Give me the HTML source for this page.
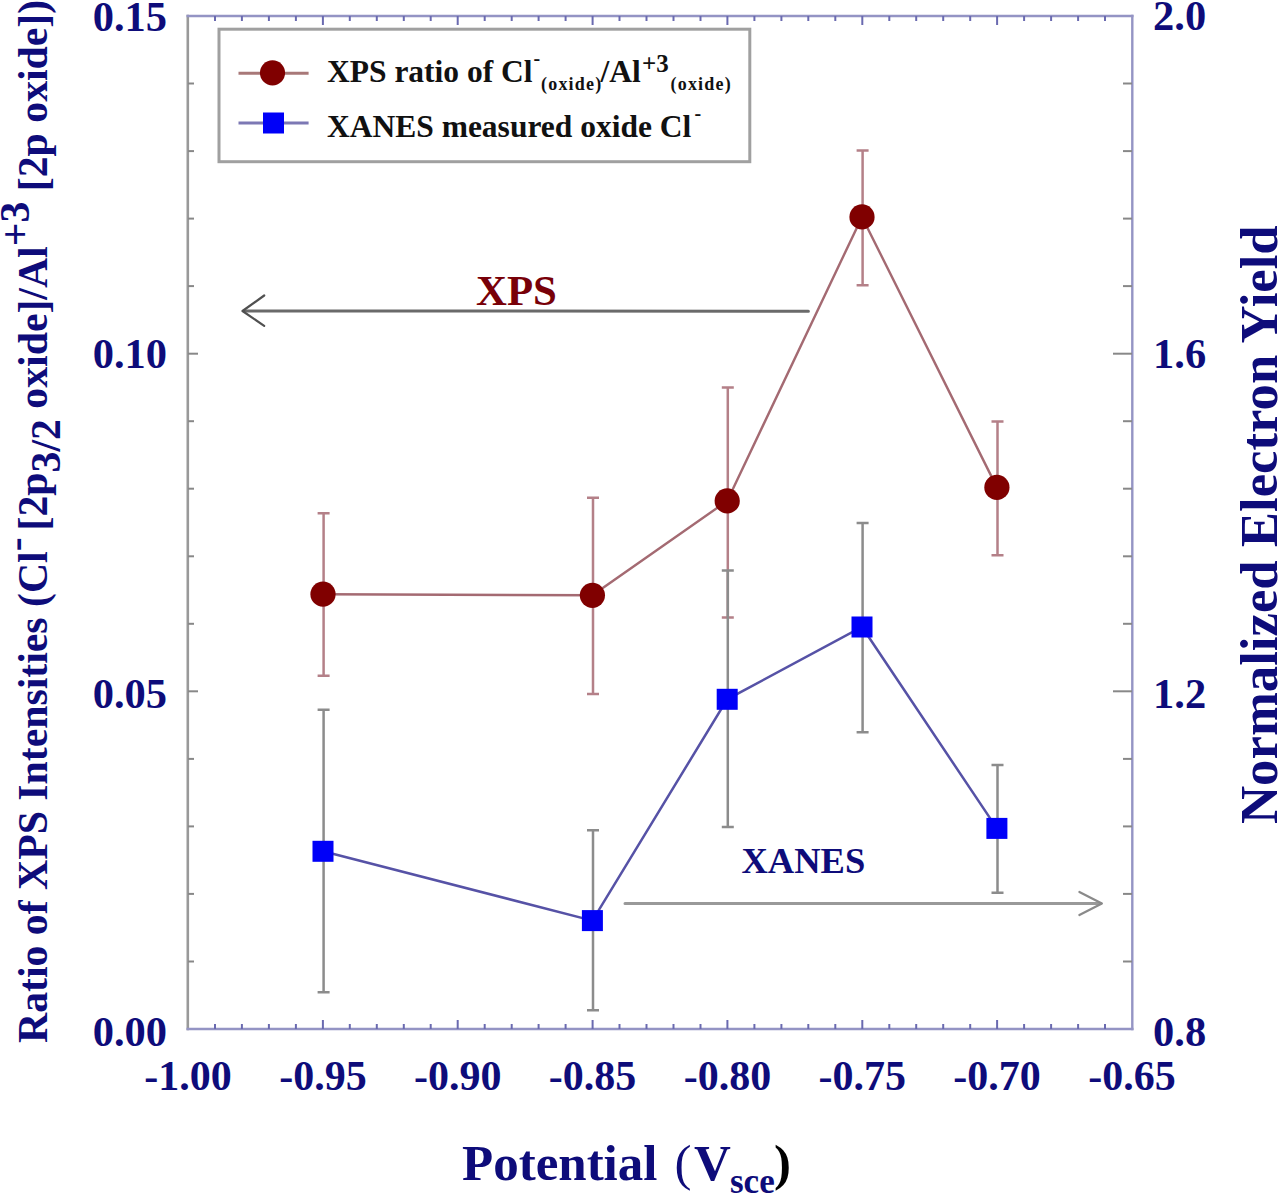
<!DOCTYPE html>
<html><head><meta charset="utf-8">
<style>
html,body{margin:0;padding:0;background:#fff;width:1280px;height:1196px;overflow:hidden}
svg{display:block}
text{font-family:"Liberation Serif",serif;font-weight:bold}
.nv{fill:#0e0c7a}
</style></head>
<body>
<svg width="1280" height="1196" viewBox="0 0 1280 1196">
<rect width="1280" height="1196" fill="#fff"/>

<!-- axes frame -->
<g fill="none" stroke-linecap="butt">
  <line x1="187.8" y1="14.8" x2="187.8" y2="1030.2" stroke="#999999" stroke-width="2.6"/>
  <line x1="186.5" y1="16" x2="1133.5" y2="16" stroke="#9494c4" stroke-width="2.4"/>
  <line x1="186.5" y1="1029" x2="1133.5" y2="1029" stroke="#9494c4" stroke-width="2.4"/>
  <line x1="1132.3" y1="14.8" x2="1132.3" y2="1030.2" stroke="#9494c4" stroke-width="2.4"/>
</g>
<g id="ticks" stroke-width="2" fill="none"><line x1="215.0" y1="1029" x2="215.0" y2="1024" stroke="#6a6ab0"/><line x1="215.0" y1="16" x2="215.0" y2="21" stroke="#6a6ab0"/><line x1="241.9" y1="1029" x2="241.9" y2="1024" stroke="#6a6ab0"/><line x1="241.9" y1="16" x2="241.9" y2="21" stroke="#6a6ab0"/><line x1="268.9" y1="1029" x2="268.9" y2="1024" stroke="#6a6ab0"/><line x1="268.9" y1="16" x2="268.9" y2="21" stroke="#6a6ab0"/><line x1="295.9" y1="1029" x2="295.9" y2="1024" stroke="#6a6ab0"/><line x1="295.9" y1="16" x2="295.9" y2="21" stroke="#6a6ab0"/><line x1="322.9" y1="1029" x2="322.9" y2="1020" stroke="#6a6ab0"/><line x1="322.9" y1="16" x2="322.9" y2="25" stroke="#6a6ab0"/><line x1="349.8" y1="1029" x2="349.8" y2="1024" stroke="#6a6ab0"/><line x1="349.8" y1="16" x2="349.8" y2="21" stroke="#6a6ab0"/><line x1="376.8" y1="1029" x2="376.8" y2="1024" stroke="#6a6ab0"/><line x1="376.8" y1="16" x2="376.8" y2="21" stroke="#6a6ab0"/><line x1="403.8" y1="1029" x2="403.8" y2="1024" stroke="#6a6ab0"/><line x1="403.8" y1="16" x2="403.8" y2="21" stroke="#6a6ab0"/><line x1="430.7" y1="1029" x2="430.7" y2="1024" stroke="#6a6ab0"/><line x1="430.7" y1="16" x2="430.7" y2="21" stroke="#6a6ab0"/><line x1="457.7" y1="1029" x2="457.7" y2="1020" stroke="#6a6ab0"/><line x1="457.7" y1="16" x2="457.7" y2="25" stroke="#6a6ab0"/><line x1="484.7" y1="1029" x2="484.7" y2="1024" stroke="#6a6ab0"/><line x1="484.7" y1="16" x2="484.7" y2="21" stroke="#6a6ab0"/><line x1="511.7" y1="1029" x2="511.7" y2="1024" stroke="#6a6ab0"/><line x1="511.7" y1="16" x2="511.7" y2="21" stroke="#6a6ab0"/><line x1="538.6" y1="1029" x2="538.6" y2="1024" stroke="#6a6ab0"/><line x1="538.6" y1="16" x2="538.6" y2="21" stroke="#6a6ab0"/><line x1="565.6" y1="1029" x2="565.6" y2="1024" stroke="#6a6ab0"/><line x1="565.6" y1="16" x2="565.6" y2="21" stroke="#6a6ab0"/><line x1="592.6" y1="1029" x2="592.6" y2="1020" stroke="#6a6ab0"/><line x1="592.6" y1="16" x2="592.6" y2="25" stroke="#6a6ab0"/><line x1="619.5" y1="1029" x2="619.5" y2="1024" stroke="#6a6ab0"/><line x1="619.5" y1="16" x2="619.5" y2="21" stroke="#6a6ab0"/><line x1="646.5" y1="1029" x2="646.5" y2="1024" stroke="#6a6ab0"/><line x1="646.5" y1="16" x2="646.5" y2="21" stroke="#6a6ab0"/><line x1="673.5" y1="1029" x2="673.5" y2="1024" stroke="#6a6ab0"/><line x1="673.5" y1="16" x2="673.5" y2="21" stroke="#6a6ab0"/><line x1="700.5" y1="1029" x2="700.5" y2="1024" stroke="#6a6ab0"/><line x1="700.5" y1="16" x2="700.5" y2="21" stroke="#6a6ab0"/><line x1="727.4" y1="1029" x2="727.4" y2="1020" stroke="#6a6ab0"/><line x1="727.4" y1="16" x2="727.4" y2="25" stroke="#6a6ab0"/><line x1="754.4" y1="1029" x2="754.4" y2="1024" stroke="#6a6ab0"/><line x1="754.4" y1="16" x2="754.4" y2="21" stroke="#6a6ab0"/><line x1="781.4" y1="1029" x2="781.4" y2="1024" stroke="#6a6ab0"/><line x1="781.4" y1="16" x2="781.4" y2="21" stroke="#6a6ab0"/><line x1="808.3" y1="1029" x2="808.3" y2="1024" stroke="#6a6ab0"/><line x1="808.3" y1="16" x2="808.3" y2="21" stroke="#6a6ab0"/><line x1="835.3" y1="1029" x2="835.3" y2="1024" stroke="#6a6ab0"/><line x1="835.3" y1="16" x2="835.3" y2="21" stroke="#6a6ab0"/><line x1="862.3" y1="1029" x2="862.3" y2="1020" stroke="#6a6ab0"/><line x1="862.3" y1="16" x2="862.3" y2="25" stroke="#6a6ab0"/><line x1="889.3" y1="1029" x2="889.3" y2="1024" stroke="#6a6ab0"/><line x1="889.3" y1="16" x2="889.3" y2="21" stroke="#6a6ab0"/><line x1="916.2" y1="1029" x2="916.2" y2="1024" stroke="#6a6ab0"/><line x1="916.2" y1="16" x2="916.2" y2="21" stroke="#6a6ab0"/><line x1="943.2" y1="1029" x2="943.2" y2="1024" stroke="#6a6ab0"/><line x1="943.2" y1="16" x2="943.2" y2="21" stroke="#6a6ab0"/><line x1="970.2" y1="1029" x2="970.2" y2="1024" stroke="#6a6ab0"/><line x1="970.2" y1="16" x2="970.2" y2="21" stroke="#6a6ab0"/><line x1="997.1" y1="1029" x2="997.1" y2="1020" stroke="#6a6ab0"/><line x1="997.1" y1="16" x2="997.1" y2="25" stroke="#6a6ab0"/><line x1="1024.1" y1="1029" x2="1024.1" y2="1024" stroke="#6a6ab0"/><line x1="1024.1" y1="16" x2="1024.1" y2="21" stroke="#6a6ab0"/><line x1="1051.1" y1="1029" x2="1051.1" y2="1024" stroke="#6a6ab0"/><line x1="1051.1" y1="16" x2="1051.1" y2="21" stroke="#6a6ab0"/><line x1="1078.1" y1="1029" x2="1078.1" y2="1024" stroke="#6a6ab0"/><line x1="1078.1" y1="16" x2="1078.1" y2="21" stroke="#6a6ab0"/><line x1="1105.0" y1="1029" x2="1105.0" y2="1024" stroke="#6a6ab0"/><line x1="1105.0" y1="16" x2="1105.0" y2="21" stroke="#6a6ab0"/><line x1="188" y1="961.5" x2="194" y2="961.5" stroke="#888"/><line x1="1132" y1="961.5" x2="1123" y2="961.5" stroke="#888"/><line x1="188" y1="893.9" x2="194" y2="893.9" stroke="#888"/><line x1="1132" y1="893.9" x2="1123" y2="893.9" stroke="#888"/><line x1="188" y1="826.4" x2="194" y2="826.4" stroke="#888"/><line x1="1132" y1="826.4" x2="1123" y2="826.4" stroke="#888"/><line x1="188" y1="758.9" x2="194" y2="758.9" stroke="#888"/><line x1="1132" y1="758.9" x2="1123" y2="758.9" stroke="#888"/><line x1="188" y1="691.3" x2="198" y2="691.3" stroke="#888"/><line x1="1132" y1="691.3" x2="1113" y2="691.3" stroke="#888"/><line x1="188" y1="623.8" x2="194" y2="623.8" stroke="#888"/><line x1="1132" y1="623.8" x2="1123" y2="623.8" stroke="#888"/><line x1="188" y1="556.3" x2="194" y2="556.3" stroke="#888"/><line x1="1132" y1="556.3" x2="1123" y2="556.3" stroke="#888"/><line x1="188" y1="488.7" x2="194" y2="488.7" stroke="#888"/><line x1="1132" y1="488.7" x2="1123" y2="488.7" stroke="#888"/><line x1="188" y1="421.2" x2="194" y2="421.2" stroke="#888"/><line x1="1132" y1="421.2" x2="1123" y2="421.2" stroke="#888"/><line x1="188" y1="353.7" x2="198" y2="353.7" stroke="#888"/><line x1="1132" y1="353.7" x2="1113" y2="353.7" stroke="#888"/><line x1="188" y1="286.1" x2="194" y2="286.1" stroke="#888"/><line x1="1132" y1="286.1" x2="1123" y2="286.1" stroke="#888"/><line x1="188" y1="218.6" x2="194" y2="218.6" stroke="#888"/><line x1="1132" y1="218.6" x2="1123" y2="218.6" stroke="#888"/><line x1="188" y1="151.1" x2="194" y2="151.1" stroke="#888"/><line x1="1132" y1="151.1" x2="1123" y2="151.1" stroke="#888"/><line x1="188" y1="83.5" x2="194" y2="83.5" stroke="#888"/><line x1="1132" y1="83.5" x2="1123" y2="83.5" stroke="#888"/></g>

<!-- tick labels -->
<g class="nv" font-size="42.5">
  <text x="167" y="30.5" text-anchor="end">0.15</text>
  <text x="167" y="367.5" text-anchor="end">0.10</text>
  <text x="167" y="708" text-anchor="end">0.05</text>
  <text x="167" y="1045.5" text-anchor="end">0.00</text>
  <text x="1153" y="30.3">2.0</text>
  <text x="1153" y="367.5">1.6</text>
  <text x="1153" y="708.4">1.2</text>
  <text x="1153" y="1046.3">0.8</text>
</g>
<g class="nv" font-size="42" text-anchor="middle">
  <text x="188" y="1089.5">-1.00</text>
  <text x="322.9" y="1089.5">-0.95</text>
  <text x="457.7" y="1089.5">-0.90</text>
  <text x="592.6" y="1089.5">-0.85</text>
  <text x="727.4" y="1089.5">-0.80</text>
  <text x="862.3" y="1089.5">-0.75</text>
  <text x="997.1" y="1089.5">-0.70</text>
  <text x="1132" y="1089.5">-0.65</text>
</g>

<!-- axis titles -->
<text class="nv" font-size="51" x="462" y="1179.5">Potential <tspan x="674.5" font-weight="normal">(</tspan><tspan x="694">V</tspan><tspan font-size="35" x="730" dy="13.5">sce</tspan><tspan x="774" dy="-13.5" fill="#000">)</tspan></text>
<text class="nv" font-size="52.75" transform="translate(1277,824) rotate(-90)">Normalized Electron Yield</text>
<text class="nv" font-size="41.75" transform="translate(47,1043) rotate(-90)">Ratio of XPS Intensities <tspan>(Cl</tspan><tspan dy="-18">-</tspan><tspan dy="18" dx="-3.5"> [2p</tspan><tspan dy="12.6">3/2</tspan><tspan dy="-12.6"> oxide]/Al</tspan><tspan dy="-18">+3</tspan><tspan dy="18"> [2p oxide])</tspan></text>

<!-- legend -->
<rect x="219" y="29.2" width="530.8" height="132.5" fill="#fff" stroke="#a0a0a0" stroke-width="3"/>
<line x1="238.5" y1="73.2" x2="308.6" y2="73.2" stroke="#a87878" stroke-width="3"/>
<circle cx="272.5" cy="72.8" r="12.6" fill="#800000"/>
<line x1="238.5" y1="123" x2="308.6" y2="123" stroke="#7c78b4" stroke-width="3"/>
<rect x="263" y="112.5" width="21" height="21" fill="#0000f8"/>
<g fill="#111">
<text font-size="31.5" x="327" y="82.3">XPS ratio of Cl</text>
<text font-size="20" x="533.5" y="65">-</text>
<text font-size="18" letter-spacing="1.2" x="541" y="90">(oxide)</text>
<text font-size="31.5" x="600.5" y="82.3">/Al</text>
<text font-size="25" x="642" y="72.3">+3</text>
<text font-size="18" letter-spacing="1.2" x="670.5" y="90">(oxide)</text>
<text font-size="31.5" x="327" y="136.6">XANES measured oxide Cl</text>
<text font-size="20" x="694.5" y="120">-</text>
</g>

<!-- arrows -->
<g fill="none" stroke-linecap="round" stroke-linejoin="round">
  <path d="M808.4 311.2 L244 311" stroke="#6a6a6a" stroke-width="3"/><path d="M264.2 295.5 L242.5 311 L264.2 325.8" stroke="#505050" stroke-width="2.2"/>
  <path d="M625 903.6 L1100.5 903.5" stroke="#999999" stroke-width="3"/><path d="M1079.4 891.9 L1101.9 903.5 L1079.4 915" stroke="#8a8a8a" stroke-width="2.2"/>
</g>
<text font-size="42.8" x="476" y="305.2" fill="#780008">XPS</text>
<text class="nv" font-size="36.5" x="741.5" y="872.8">XANES</text>

<!-- error bars -->
<g id="errs" fill="none" stroke-width="2.5"><path d="M323.6 513.2V675.8M317.6 513.2H329.6M317.6 675.8H329.6" stroke="#b48088"/><path d="M593.0 497.8V694M587.0 497.8H599.0M587.0 694H599.0" stroke="#b48088"/><path d="M727.8000000000001 387.6V617.6M721.8000000000001 387.6H733.8000000000001M721.8000000000001 617.6H733.8000000000001" stroke="#b48088"/><path d="M862.6 150.6V285.3M856.6 150.6H868.6M856.6 285.3H868.6" stroke="#b48088"/><path d="M997.5 421.6V555.3M991.5 421.6H1003.5M991.5 555.3H1003.5" stroke="#b48088"/><path d="M323.6 709.7V992.3M317.6 709.7H329.6M317.6 992.3H329.6" stroke="#8c8c8c"/><path d="M593.0 830.2V1010.2M587.0 830.2H599.0M587.0 1010.2H599.0" stroke="#8c8c8c"/><path d="M727.8000000000001 570.5V827M721.8000000000001 570.5H733.8000000000001M721.8000000000001 827H733.8000000000001" stroke="#8c8c8c"/><path d="M862.6 523V732.2M856.6 523H868.6M856.6 732.2H868.6" stroke="#8c8c8c"/><path d="M997.5 764.9V892.7M991.5 764.9H1003.5M991.5 892.7H1003.5" stroke="#8c8c8c"/></g>
<g id="data"><polyline points="323,594.2 592.4,595.3 727.2,500.9 862,216.9 996.9,487.4" fill="none" stroke="#a46a72" stroke-width="2.4"/><polyline points="323,851.3 592.4,920.6 727.2,699.3 862,627 996.9,828.4" fill="none" stroke="#5652a6" stroke-width="2.5"/><g fill="#800000"><circle cx="323" cy="594.2" r="12.6"/><circle cx="592.4" cy="595.3" r="12.6"/><circle cx="727.2" cy="500.9" r="12.6"/><circle cx="862" cy="216.9" r="12.6"/><circle cx="996.9" cy="487.4" r="12.6"/></g><g fill="#0000f8"><rect x="312.5" y="840.8" width="21" height="21"/><rect x="581.9" y="910.1" width="21" height="21"/><rect x="716.7" y="688.8" width="21" height="21"/><rect x="851.5" y="616.5" width="21" height="21"/><rect x="986.4" y="817.9" width="21" height="21"/></g></g>
</svg>
</body></html>
